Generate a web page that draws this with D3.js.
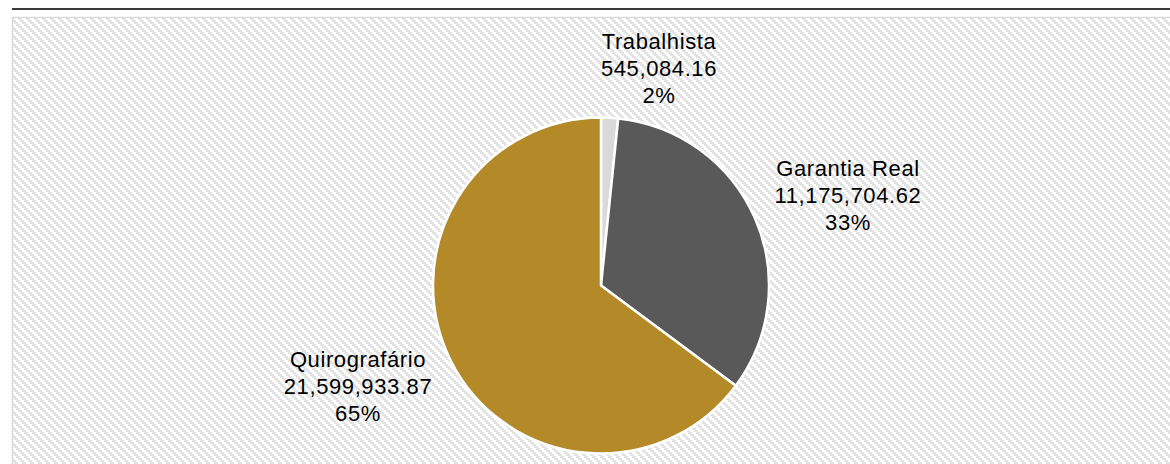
<!DOCTYPE html>
<html>
<head>
<meta charset="utf-8">
<script src="https://cdn.jsdelivr.net/npm/d3@7"></script>
<style>
  html, body { margin: 0; padding: 0; background: #fff; }
  svg { display: block; }
  text { font-family: "Liberation Sans", Arial, sans-serif; }
</style>
</head>
<body>
<div id="chart"></div>
<script>
// data
var categories = ["Trabalhista", "Garantia Real", "Quirografário"];
var values = [545084.16, 11175704.62, 21599933.87];
var valueLabels = ["545,084.16", "11,175,704.62", "21,599,933.87"];
var pctLabels = ["2%", "33%", "65%"];
var colors = ["#d9d9d9", "#595959", "#b38a27"];

var width = 1170, height = 464;

var svg = d3.select("#chart")
  .append("svg")
  .attr("width", width)
  .attr("height", height);

// hatch pattern for the chart area (blocky downward diagonal)
var defs = svg.append("defs");
var pat = defs.append("pattern")
  .attr("id", "hatch")
  .attr("patternUnits", "userSpaceOnUse")
  .attr("width", 8)
  .attr("height", 8);
pat.append("rect").attr("width", 8).attr("height", 8).attr("fill", "#fff");
d3.range(4).forEach(function(i) {
  [0, -8].forEach(function(off) {
    pat.append("rect")
      .attr("x", 2 * i + off)
      .attr("y", 2 * i)
      .attr("width", 4)
      .attr("height", 2)
      .attr("fill", "#e3e3e3")
      .attr("shape-rendering", "crispEdges");
  });
});

// top rule
svg.append("rect")
  .attr("x", 12).attr("y", 8)
  .attr("width", width - 12).attr("height", 2)
  .attr("fill", "#3a3a3a");

// chart area
svg.append("rect")
  .attr("x", 12.5).attr("y", 17.5)
  .attr("width", width).attr("height", height)
  .attr("fill", "url(#hatch)")
  .attr("stroke", "#d9d9d9")
  .attr("stroke-width", 1.5);

var cx = 601, cy = 285.5, r = 168;

var pie = d3.pie().sort(null).value(function(d) { return d; });
var arcs = pie(values);
var arc = d3.arc().innerRadius(0).outerRadius(r);

var g = svg.append("g").attr("transform", "translate(" + cx + "," + cy + ")");

g.selectAll("path")
  .data(arcs)
  .enter()
  .append("path")
    .attr("d", arc)
    .attr("fill", function(d, i) { return colors[i]; })
    .attr("stroke", "#fff")
    .attr("stroke-width", 2.5)
    .attr("stroke-linejoin", "round");

// label positions (center x, first baseline y)
var labelPos = [[659, 49], [848, 176], [358, 367]];

var labels = svg.append("g");
categories.forEach(function(c, i) {
  var t = labels.append("text")
    .attr("text-anchor", "middle")
    .attr("font-size", 22)
    .attr("letter-spacing", 0.6)
    .attr("fill", "#000");
  [c, valueLabels[i], pctLabels[i]].forEach(function(s, k) {
    t.append("tspan")
      .attr("x", labelPos[i][0])
      .attr("y", labelPos[i][1] + k * 26.8)
      .text(s);
  });
});
</script>
</body>
</html>
